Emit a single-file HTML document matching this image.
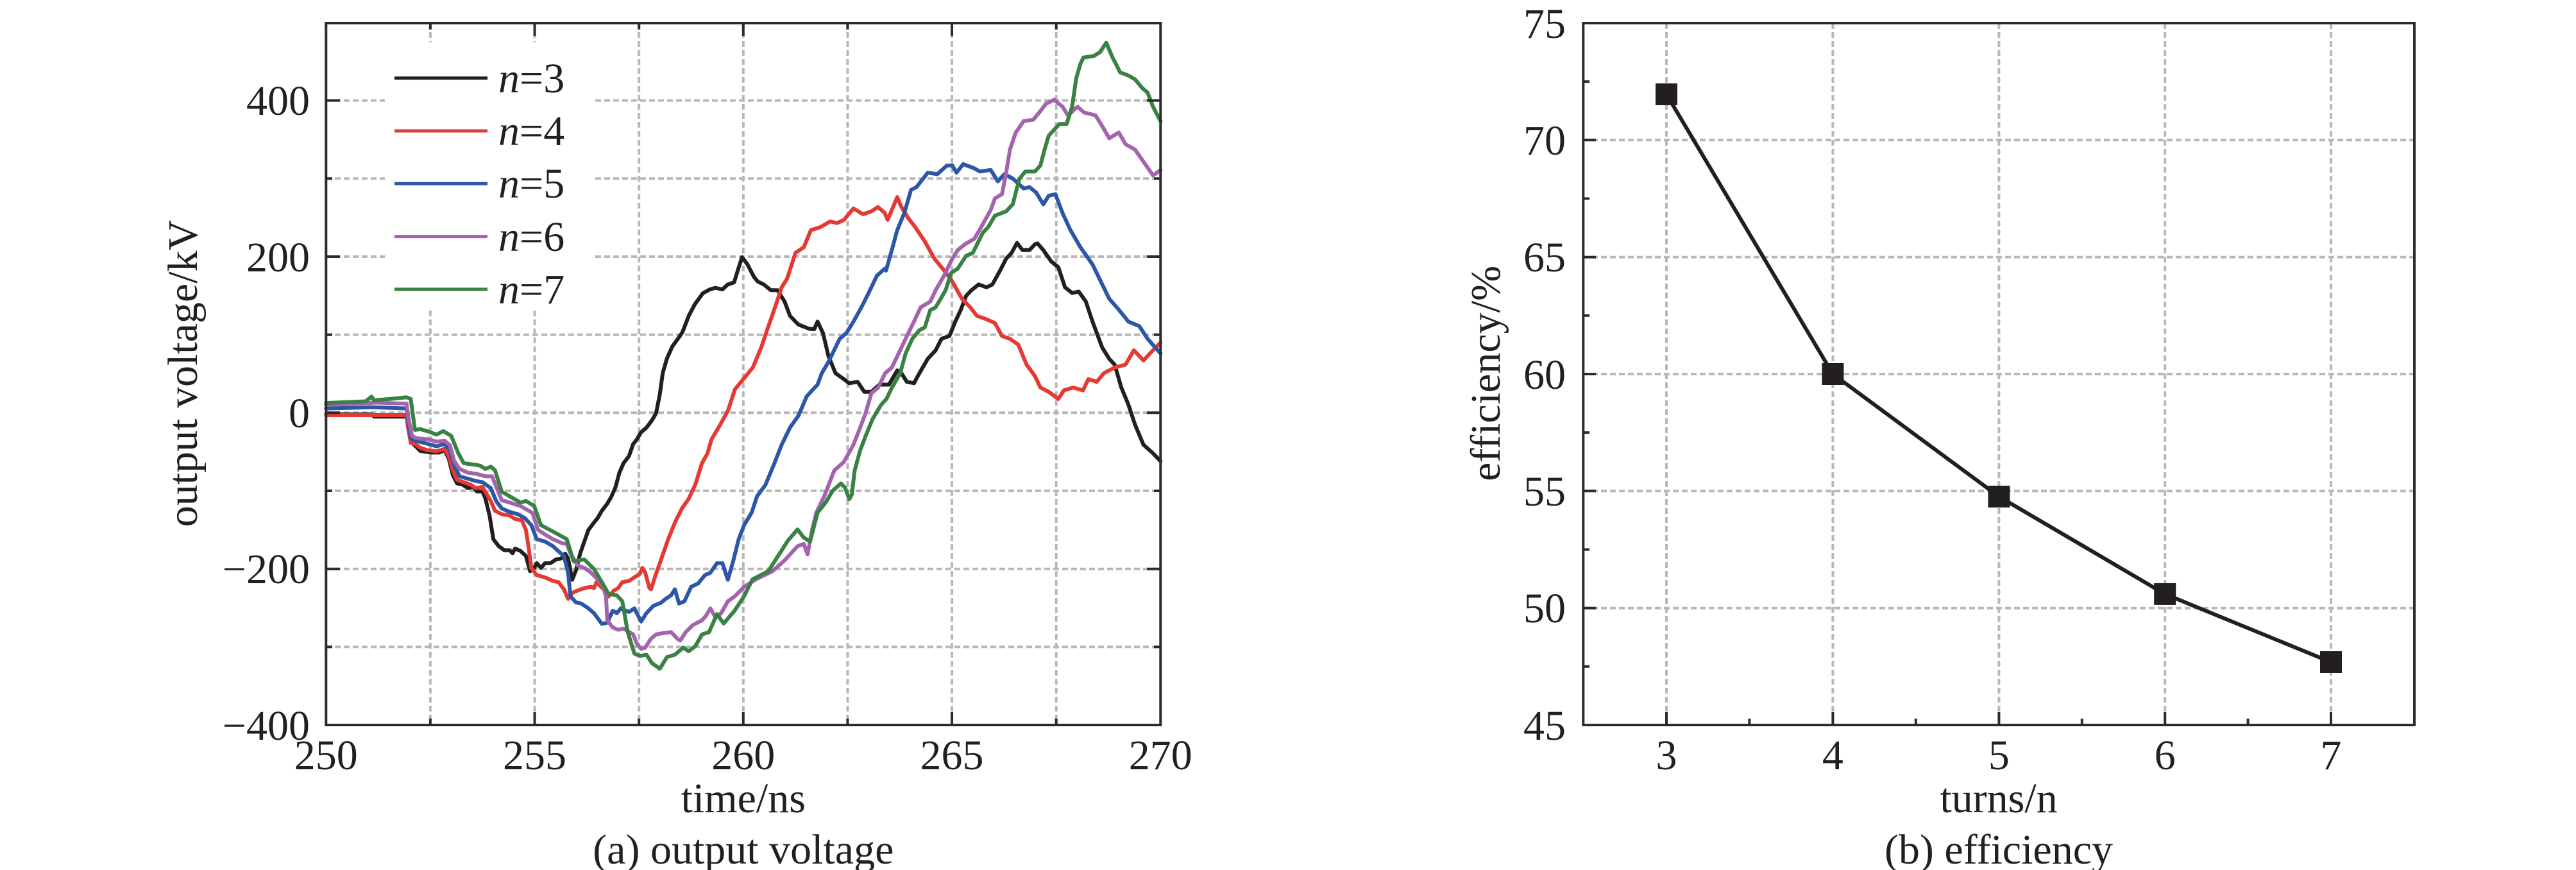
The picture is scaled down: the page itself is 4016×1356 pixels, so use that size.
<!DOCTYPE html>
<html><head><meta charset="utf-8"><style>
html,body{margin:0;padding:0;background:#fff;}
svg{display:block;}
text{font-family:"Liberation Serif","Times New Roman",serif;fill:#231f20;}
</style></head><body>
<svg width="4016" height="1356" viewBox="0 0 4016 1356" xmlns="http://www.w3.org/2000/svg">
<rect width="4016" height="1356" fill="#fff"/>

<!-- ============ LEFT PLOT ============ -->
<g stroke="#b8b8b8" stroke-width="4" stroke-dasharray="9 5" fill="none">
  <line x1="670.9" y1="36" x2="670.9" y2="1130"/>
  <line x1="833.55" y1="36" x2="833.55" y2="1130"/>
  <line x1="996.2" y1="36" x2="996.2" y2="1130"/>
  <line x1="1158.8" y1="36" x2="1158.8" y2="1130"/>
  <line x1="1321.4" y1="36" x2="1321.4" y2="1130"/>
  <line x1="1484.05" y1="36" x2="1484.05" y2="1130"/>
  <line x1="1646.7" y1="36" x2="1646.7" y2="1130"/>
  <line x1="508" y1="156.6" x2="1809" y2="156.6"/>
  <line x1="508" y1="278.3" x2="1809" y2="278.3"/>
  <line x1="508" y1="400" x2="1809" y2="400"/>
  <line x1="508" y1="521.7" x2="1809" y2="521.7"/>
  <line x1="508" y1="643.3" x2="1809" y2="643.3"/>
  <line x1="508" y1="765" x2="1809" y2="765"/>
  <line x1="508" y1="886.7" x2="1809" y2="886.7"/>
  <line x1="508" y1="1008.3" x2="1809" y2="1008.3"/>
</g>
<!-- legend background -->
<rect x="600" y="66" width="324" height="418" fill="#fff"/>

<g transform="translate(508.3,643.3) scale(65.05,-1.2167)" fill="none" stroke-width="6" stroke-linejoin="round" stroke-linecap="round">
<polyline vector-effect="non-scaling-stroke" stroke="#231f20" points="0,-2 1.1,-2 1.15,-5 1.93,-5 1.97,-20 2.03,-37 2.13,-42 2.26,-49 2.52,-51 2.71,-51 2.84,-48 2.94,-58.5 3.04,-80 3.14,-90.5 3.27,-92 3.4,-96.6 3.53,-95 3.62,-101 3.75,-101 3.82,-110 3.92,-132 4.01,-162 4.14,-171 4.27,-176 4.4,-176 4.47,-180 4.53,-174 4.66,-177 4.79,-183.5 4.89,-203 4.99,-198.8 5.05,-192.7 5.15,-198.8 5.25,-192.7 5.38,-192.7 5.51,-188 5.64,-186.6 5.73,-180.5 5.8,-186.6 5.9,-214 5.99,-201.8 6.09,-180.5 6.19,-165 6.29,-150 6.42,-140.8 6.51,-134.8 6.61,-125.6 6.74,-116.5 6.84,-107.3 6.94,-95 7.03,-76.8 7.13,-64.6 7.26,-55.5 7.36,-40.2 7.45,-34 7.55,-25 7.68,-19 7.81,-9.8 7.91,-0.6 8,23.8 8.07,51 8.17,69.5 8.3,85 8.45,96 8.54,103 8.7,125 8.84,139 9.03,153 9.2,158 9.33,160 9.5,158 9.62,164 9.78,167 9.87,182.7 9.97,199.3 10.1,190 10.26,173.6 10.35,168 10.49,164.4 10.66,157 10.82,157 10.99,142.4 11.12,124 11.32,113 11.58,107.5 11.7,107 11.78,116.7 11.91,102 12.04,72.7 12.21,50.6 12.41,43 12.54,37.8 12.74,39.6 12.9,26.8 13.07,26.8 13.26,36 13.49,36 13.69,54.3 13.79,50.6 13.92,39.6 14.09,37.8 14.22,50.6 14.42,69 14.61,80 14.75,94.7 14.94,98.3 15.08,116.7 15.21,131.4 15.34,149.7 15.47,157 15.64,164.4 15.83,160.7 15.97,164.4 16.16,182.7 16.3,197.4 16.43,204.8 16.56,217.6 16.69,208.4 16.86,208.4 16.99,215.8 17.05,217 17.19,208.4 17.38,193.8 17.55,186.4 17.71,160.7 17.88,153.4 18.04,155.2 18.21,142.4 18.37,116.7 18.6,83.7 18.77,69 18.9,61.6 19.06,32.3 19.23,10.3 19.39,-15.4 19.59,-41 19.82,-52 20,-62"/>
<polyline vector-effect="non-scaling-stroke" stroke="#e53a33" points="0,-3 1.93,-3 1.97,-20 2.03,-38.7 2.13,-40 2.26,-44.8 2.42,-47.9 2.65,-49.4 2.84,-46.3 2.94,-55.5 3.04,-73.8 3.14,-86 3.3,-89 3.46,-92 3.59,-96.6 3.75,-95 3.85,-104 3.95,-113.4 4.05,-125.6 4.21,-130 4.4,-131.7 4.53,-136 4.69,-137.8 4.79,-150 4.86,-174.4 4.92,-198.8 5.05,-208 5.25,-211 5.44,-215.5 5.57,-217 5.7,-226 5.8,-238.4 5.9,-230.8 6.03,-227.7 6.19,-224.7 6.35,-223 6.42,-224.7 6.48,-217 6.68,-227.7 6.77,-235.4 6.9,-227.7 7,-224.7 7.1,-217 7.26,-215.5 7.39,-211 7.52,-206.4 7.58,-198.8 7.65,-205 7.75,-224.7 7.79,-226 7.88,-211 8.04,-186.6 8.2,-162 8.36,-140.8 8.53,-122.6 8.69,-110.4 8.85,-92 9.01,-64.6 9.14,-52.4 9.24,-34 9.44,-15.9 9.63,2.4 9.8,30 10,43 10.23,58 10.43,83.6 10.59,109 10.76,135 10.92,160.7 11.05,171.7 11.25,204.8 11.45,212 11.62,234 11.85,237.8 12.08,245 12.25,243 12.41,247 12.64,261.7 12.87,254.3 13.07,258 13.23,263.5 13.39,256 13.46,247 13.69,276.3 13.79,263.5 13.96,248.8 14.12,237.8 14.35,219.5 14.58,197.4 14.81,182.6 15.01,168 15.24,146 15.44,135 15.6,124 15.8,120.4 16.03,114.9 16.2,98.3 16.39,94.7 16.59,87.3 16.79,61.6 16.99,47 17.12,32.3 17.32,26.8 17.55,17.6 17.68,28.6 17.91,32.3 18.14,28.6 18.27,43 18.47,39.6 18.64,50.6 18.9,58 19.16,61.6 19.36,80 19.59,67 19.82,80 20,90"/>
<polyline vector-effect="non-scaling-stroke" stroke="#2c57a6" points="0,5.5 1.1,7 1.93,5.5 1.97,-10 2.03,-32.6 2.13,-35.7 2.45,-40 2.65,-43 2.84,-40 2.97,-47.9 3.07,-67.7 3.2,-81.4 3.4,-84.5 3.59,-87.5 3.75,-89 3.95,-96.6 4.08,-113.4 4.21,-122.6 4.4,-127 4.6,-130 4.76,-134.8 4.92,-144 5.05,-162 5.25,-165 5.44,-171 5.57,-177.4 5.7,-183.5 5.8,-205 5.86,-235.4 5.99,-243 6.12,-244.5 6.29,-250.6 6.42,-256.7 6.61,-270.4 6.74,-269 6.87,-253.7 6.97,-256.7 7.06,-250.6 7.26,-255.2 7.39,-250.6 7.55,-267.4 7.68,-256.7 7.84,-247.6 8.04,-243 8.14,-238.4 8.27,-233.8 8.36,-226.2 8.46,-244.5 8.59,-241.5 8.75,-223 8.92,-218.6 9.08,-208 9.21,-205 9.37,-192.7 9.5,-192.7 9.63,-214 9.76,-189.6 9.89,-162 10.02,-143.9 10.2,-128 10.33,-107 10.53,-92.5 10.73,-66.8 10.92,-41 11.12,-19 11.32,-4 11.52,21 11.65,28.6 11.78,36 11.88,50.6 12.04,65 12.31,94.7 12.47,102 12.64,116.7 12.83,135 13,153 13.2,175.4 13.39,184.6 13.42,182 13.56,208.4 13.69,234 13.86,256 14.02,285.5 14.15,289 14.42,307.5 14.65,305.7 14.88,316.7 15.01,316.7 15.11,307.5 15.27,318.5 15.54,313 15.67,309 15.93,311 16.1,296.5 16.26,305.7 16.46,300 16.72,287.3 16.86,289 17.02,282 17.19,267 17.32,278 17.48,280 17.65,256 17.84,234 18.08,212 18.37,190 18.57,168 18.77,146 19,132 19.23,116.7 19.49,111 19.69,94.7 20,76"/>
<polyline vector-effect="non-scaling-stroke" stroke="#a464ad" points="0,10 1.2,13 1.93,11.6 1.97,-5 2.06,-29.6 2.16,-32.6 2.45,-34 2.65,-37 2.84,-35.7 2.97,-41.8 3.07,-61.6 3.2,-72 3.4,-76.8 3.62,-78.4 3.82,-81.4 3.98,-81.4 4.08,-95 4.21,-112 4.4,-115 4.66,-119.5 4.86,-125.6 4.95,-128.7 5.08,-150 5.25,-156 5.44,-162 5.64,-166.8 5.77,-168.3 5.86,-180.5 6.03,-195.7 6.19,-198.8 6.35,-204.9 6.55,-215.5 6.64,-223 6.71,-235.4 6.74,-265.9 6.87,-275 7,-278 7.13,-276.5 7.36,-284 7.45,-296 7.55,-302.4 7.65,-301 7.78,-290 7.91,-284 8.04,-282.6 8.27,-281 8.43,-290 8.49,-291.8 8.62,-281 8.79,-272 9.01,-265.9 9.11,-259.8 9.21,-250.6 9.34,-262.8 9.47,-256.7 9.63,-241.5 9.79,-235.4 10.02,-223 10.3,-213.5 10.7,-203 11,-188.6 11.3,-171 11.45,-168 11.54,-181.5 11.65,-150 11.75,-128 11.94,-107 12.18,-74 12.41,-63 12.64,-41 12.8,-19 12.93,-0.7 13.07,25 13.23,32 13.4,50.6 13.56,58 13.76,80 13.89,94.7 14.09,116.7 14.25,135 14.48,142.4 14.61,157 14.81,175.4 15.01,197.4 15.14,208.4 15.31,215.8 15.54,223 15.74,241.5 15.93,259.8 16.03,274.5 16.2,280 16.3,307.5 16.39,337 16.53,358.9 16.72,373.6 16.95,375.4 17.12,386.4 17.25,395.6 17.45,401 17.65,392 17.78,381 18.01,392 18.17,384.6 18.44,381 18.57,370 18.77,351.6 19,359 19.16,344 19.39,337 19.82,304 20,311"/>
<polyline vector-effect="non-scaling-stroke" stroke="#3a8144" points="0,12.5 0.95,14.6 1.09,20.7 1.15,16 1.61,18 1.93,19.8 2.03,17.7 2.13,-22 2.26,-21 2.45,-24 2.65,-28 2.81,-23.5 3,-29.6 3.17,-52 3.3,-64.6 3.49,-66 3.69,-67.7 3.82,-72 3.95,-69 4.05,-73.8 4.21,-101 4.4,-107 4.66,-115 4.79,-113 4.99,-119.5 5.15,-144 5.31,-148.5 5.57,-156 5.77,-162 5.93,-190 6.19,-188 6.42,-200 6.61,-217 6.77,-232 6.97,-234 7.1,-241.5 7.23,-281 7.39,-308.5 7.52,-311.6 7.68,-310 7.81,-320.7 8,-328 8.17,-313 8.36,-310 8.56,-301 8.69,-305.5 8.85,-299 9.01,-284 9.18,-281 9.37,-258 9.53,-270 9.79,-253.7 10.02,-235 10.22,-213.5 10.6,-203 11.07,-163.7 11.3,-149.5 11.45,-160 11.6,-165 11.78,-128 11.98,-114.5 12.14,-100 12.34,-90.6 12.44,-96 12.54,-110.8 12.6,-105 12.67,-74 12.8,-48.4 12.93,-30 13.1,-8 13.3,10 13.43,17.6 13.56,32 13.76,50.6 13.89,76 14.05,94.7 14.22,105.7 14.35,109.4 14.48,131.4 14.61,135 14.85,157 14.98,179 15.14,184.6 15.34,201 15.5,204.8 15.74,230.5 15.87,237.8 16.03,252.5 16.3,258 16.46,267.2 16.53,282 16.62,300 16.76,309 16.99,309 17.12,316.7 17.22,337 17.32,355 17.45,362.6 17.58,370 17.75,370 17.88,392 17.98,428.6 18.08,447 18.15,455 18.4,457 18.55,462 18.7,474 18.85,455 18.93,447 19.03,436 19.23,432 19.39,427 19.56,416 19.69,410 19.82,392 20,373.6"/>
</g>

<!-- left axes box -->
<rect x="508.3" y="36" width="1301" height="1094" fill="none" stroke="#2b2b2b" stroke-width="4"/>
<g stroke="#2b2b2b" stroke-width="4">
  <line x1="833.55" y1="1130" x2="833.55" y2="1110"/>
  <line x1="1158.8" y1="1130" x2="1158.8" y2="1110"/>
  <line x1="1484.05" y1="1130" x2="1484.05" y2="1110"/>
  <line x1="670.9" y1="1130" x2="670.9" y2="1120"/>
  <line x1="996.2" y1="1130" x2="996.2" y2="1120"/>
  <line x1="1321.4" y1="1130" x2="1321.4" y2="1120"/>
  <line x1="1646.7" y1="1130" x2="1646.7" y2="1120"/>
  <line x1="833.55" y1="36" x2="833.55" y2="56"/>
  <line x1="1158.8" y1="36" x2="1158.8" y2="56"/>
  <line x1="1484.05" y1="36" x2="1484.05" y2="56"/>
  <line x1="670.9" y1="36" x2="670.9" y2="46"/>
  <line x1="996.2" y1="36" x2="996.2" y2="46"/>
  <line x1="1321.4" y1="36" x2="1321.4" y2="46"/>
  <line x1="1646.7" y1="36" x2="1646.7" y2="46"/>
  <line x1="508.3" y1="156.6" x2="530" y2="156.6"/>
  <line x1="508.3" y1="400" x2="530" y2="400"/>
  <line x1="508.3" y1="643.3" x2="530" y2="643.3"/>
  <line x1="508.3" y1="886.7" x2="530" y2="886.7"/>
  <line x1="508.3" y1="278.3" x2="518" y2="278.3"/>
  <line x1="508.3" y1="521.7" x2="518" y2="521.7"/>
  <line x1="508.3" y1="765" x2="518" y2="765"/>
  <line x1="508.3" y1="1008.3" x2="518" y2="1008.3"/>
  <line x1="1809.3" y1="156.6" x2="1788" y2="156.6"/>
  <line x1="1809.3" y1="400" x2="1788" y2="400"/>
  <line x1="1809.3" y1="643.3" x2="1788" y2="643.3"/>
  <line x1="1809.3" y1="886.7" x2="1788" y2="886.7"/>
  <line x1="1809.3" y1="278.3" x2="1799" y2="278.3"/>
  <line x1="1809.3" y1="521.7" x2="1799" y2="521.7"/>
  <line x1="1809.3" y1="765" x2="1799" y2="765"/>
  <line x1="1809.3" y1="1008.3" x2="1799" y2="1008.3"/>
</g>

<!-- legend -->
<g stroke-width="5">
  <line x1="615" y1="121.7" x2="760" y2="121.7" stroke="#231f20"/>
  <line x1="615" y1="204" x2="760" y2="204" stroke="#e53a33"/>
  <line x1="615" y1="286.3" x2="760" y2="286.3" stroke="#2c57a6"/>
  <line x1="615" y1="368.6" x2="760" y2="368.6" stroke="#a464ad"/>
  <line x1="615" y1="450.9" x2="760" y2="450.9" stroke="#3a8144"/>
</g>
<g font-size="66">
  <text x="777" y="144"><tspan font-style="italic">n</tspan>=3</text>
  <text x="777" y="226"><tspan font-style="italic">n</tspan>=4</text>
  <text x="777" y="308"><tspan font-style="italic">n</tspan>=5</text>
  <text x="777" y="391"><tspan font-style="italic">n</tspan>=6</text>
  <text x="777" y="473"><tspan font-style="italic">n</tspan>=7</text>
</g>

<!-- left tick labels -->
<g font-size="66" text-anchor="end">
  <text x="483" y="179">400</text>
  <text x="483" y="423">200</text>
  <text x="483" y="666">0</text>
  <text x="483" y="909">−200</text>
  <text x="483" y="1153">−400</text>
</g>
<g font-size="66" text-anchor="middle">
  <text x="508.3" y="1199">250</text>
  <text x="833.55" y="1199">255</text>
  <text x="1158.8" y="1199">260</text>
  <text x="1484.05" y="1199">265</text>
  <text x="1809.3" y="1199">270</text>
  <text x="1158.8" y="1266">time/ns</text>
  <text x="1158.8" y="1346">(a) output voltage</text>
</g>
<text font-size="66" text-anchor="middle" transform="translate(307,582) rotate(-90)">output voltage/kV</text>

<!-- ============ RIGHT PLOT ============ -->
<g stroke="#b8b8b8" stroke-width="4" stroke-dasharray="9 5" fill="none">
  <line x1="2598" y1="36" x2="2598" y2="1130"/>
  <line x1="2857.4" y1="36" x2="2857.4" y2="1130"/>
  <line x1="3116.4" y1="36" x2="3116.4" y2="1130"/>
  <line x1="3375.2" y1="36" x2="3375.2" y2="1130"/>
  <line x1="3634" y1="36" x2="3634" y2="1130"/>
  <line x1="2468" y1="218.3" x2="3764" y2="218.3"/>
  <line x1="2468" y1="400.7" x2="3764" y2="400.7"/>
  <line x1="2468" y1="583" x2="3764" y2="583"/>
  <line x1="2468" y1="765.3" x2="3764" y2="765.3"/>
  <line x1="2468" y1="947.7" x2="3764" y2="947.7"/>
</g>
<polyline points="2598,147 2857.4,583 3116.4,774 3375.2,925.9 3634,1032" fill="none" stroke="#231f20" stroke-width="6" stroke-linejoin="round"/>
<g fill="#231f20">
  <rect x="2581" y="130" width="34" height="34"/>
  <rect x="2840.4" y="566" width="34" height="34"/>
  <rect x="3099.4" y="757" width="34" height="34"/>
  <rect x="3358.2" y="908.9" width="34" height="34"/>
  <rect x="3617" y="1015" width="34" height="34"/>
</g>
<rect x="2468.3" y="36" width="1295.7" height="1094" fill="none" stroke="#2b2b2b" stroke-width="4"/>
<g stroke="#2b2b2b" stroke-width="4">
  <line x1="2468.3" y1="218.3" x2="2488" y2="218.3"/>
  <line x1="2468.3" y1="400.7" x2="2488" y2="400.7"/>
  <line x1="2468.3" y1="583" x2="2488" y2="583"/>
  <line x1="2468.3" y1="765.3" x2="2488" y2="765.3"/>
  <line x1="2468.3" y1="947.7" x2="2488" y2="947.7"/>
  <line x1="2468.3" y1="127.2" x2="2478" y2="127.2"/>
  <line x1="2468.3" y1="309.5" x2="2478" y2="309.5"/>
  <line x1="2468.3" y1="491.8" x2="2478" y2="491.8"/>
  <line x1="2468.3" y1="674.2" x2="2478" y2="674.2"/>
  <line x1="2468.3" y1="856.5" x2="2478" y2="856.5"/>
  <line x1="2468.3" y1="1038.8" x2="2478" y2="1038.8"/>
  <line x1="2598" y1="1130" x2="2598" y2="1110"/>
  <line x1="2857.4" y1="1130" x2="2857.4" y2="1110"/>
  <line x1="3116.4" y1="1130" x2="3116.4" y2="1110"/>
  <line x1="3375.2" y1="1130" x2="3375.2" y2="1110"/>
  <line x1="3634" y1="1130" x2="3634" y2="1110"/>
  <line x1="2727.4" y1="1130" x2="2727.4" y2="1120"/>
  <line x1="2986.8" y1="1130" x2="2986.8" y2="1120"/>
  <line x1="3245.8" y1="1130" x2="3245.8" y2="1120"/>
  <line x1="3504.6" y1="1130" x2="3504.6" y2="1120"/>
</g>
<g font-size="66" text-anchor="end">
  <text x="2441" y="59">75</text>
  <text x="2441" y="241">70</text>
  <text x="2441" y="423">65</text>
  <text x="2441" y="606">60</text>
  <text x="2441" y="788">55</text>
  <text x="2441" y="970">50</text>
  <text x="2441" y="1153">45</text>
</g>
<g font-size="66" text-anchor="middle">
  <text x="2598" y="1199">3</text>
  <text x="2857.4" y="1199">4</text>
  <text x="3116.4" y="1199">5</text>
  <text x="3375.2" y="1199">6</text>
  <text x="3634" y="1199">7</text>
  <text x="3116" y="1266">turns/n</text>
  <text x="3116" y="1346">(b) efficiency</text>
</g>
<text font-size="66" text-anchor="middle" transform="translate(2338,582) rotate(-90)">efficiency/%</text>
</svg>
</body></html>
